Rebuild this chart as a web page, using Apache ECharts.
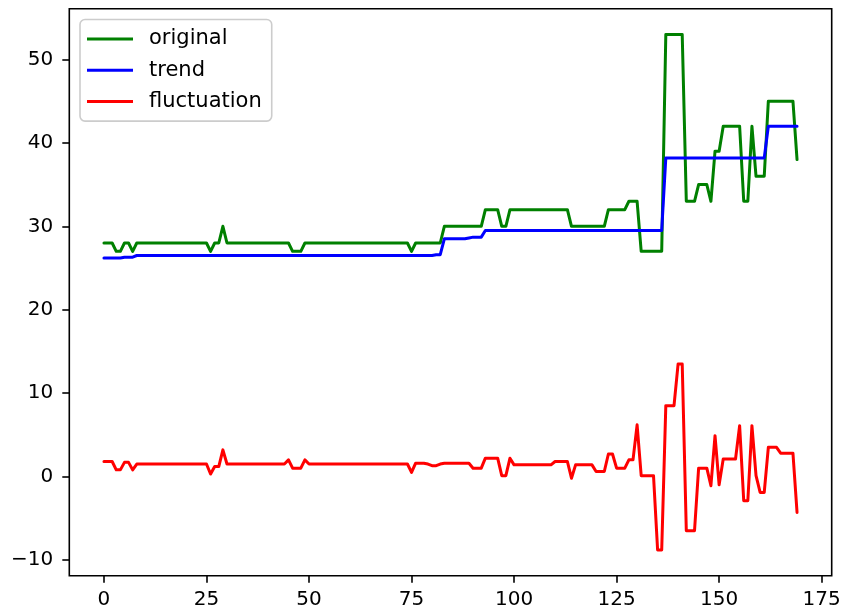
<!DOCTYPE html>
<html>
<head>
<meta charset="utf-8">
<script src="https://cdn.jsdelivr.net/npm/echarts@6/dist/echarts.min.js"></script>
<style>
  html, body { margin: 0; padding: 0; background: #fff; }
  #chart { width: 844px; height: 610px; }
</style>
</head>
<body>
<div id="chart"></div>
<script>
// Decomposition of a series into trend and fluctuation, one value per step (0..169)
const seriesNames = ['original', 'trend', 'fluctuation'];

const original = [
  28, 28, 28, 27, 27, 28, 28, 27, 28, 28,
  28, 28, 28, 28, 28, 28, 28, 28, 28, 28,
  28, 28, 28, 28, 28, 28, 27, 28, 28, 30,
  28, 28, 28, 28, 28, 28, 28, 28, 28, 28,
  28, 28, 28, 28, 28, 28, 27, 27, 27, 28,
  28, 28, 28, 28, 28, 28, 28, 28, 28, 28,
  28, 28, 28, 28, 28, 28, 28, 28, 28, 28,
  28, 28, 28, 28, 28, 27, 28, 28, 28, 28,
  28, 28, 28, 30, 30, 30, 30, 30, 30, 30,
  30, 30, 30, 32, 32, 32, 32, 30, 30, 32,
  32, 32, 32, 32, 32, 32, 32, 32, 32, 32,
  32, 32, 32, 32, 30, 30, 30, 30, 30, 30,
  30, 30, 30, 32, 32, 32, 32, 32, 33, 33,
  33, 27, 27, 27, 27, 27, 27, 53, 53, 53,
  53, 53, 33, 33, 33, 35, 35, 35, 33, 39,
  39, 42, 42, 42, 42, 42, 33, 33, 42, 36,
  36, 36, 45, 45, 45, 45, 45, 45, 45, 38
];

const trend = [
  26.2, 26.2, 26.2, 26.2, 26.2, 26.3, 26.3, 26.3, 26.5, 26.5,
  26.5, 26.5, 26.5, 26.5, 26.5, 26.5, 26.5, 26.5, 26.5, 26.5,
  26.5, 26.5, 26.5, 26.5, 26.5, 26.5, 26.5, 26.5, 26.5, 26.5,
  26.5, 26.5, 26.5, 26.5, 26.5, 26.5, 26.5, 26.5, 26.5, 26.5,
  26.5, 26.5, 26.5, 26.5, 26.5, 26.5, 26.5, 26.5, 26.5, 26.5,
  26.5, 26.5, 26.5, 26.5, 26.5, 26.5, 26.5, 26.5, 26.5, 26.5,
  26.5, 26.5, 26.5, 26.5, 26.5, 26.5, 26.5, 26.5, 26.5, 26.5,
  26.5, 26.5, 26.5, 26.5, 26.5, 26.5, 26.5, 26.5, 26.5, 26.5,
  26.5, 26.6, 26.6, 28.5, 28.5, 28.5, 28.5, 28.5, 28.5, 28.6,
  28.7, 28.7, 28.7, 29.5, 29.5, 29.5, 29.5, 29.5, 29.5, 29.5,
  29.5, 29.5, 29.5, 29.5, 29.5, 29.5, 29.5, 29.5, 29.5, 29.5,
  29.5, 29.5, 29.5, 29.5, 29.5, 29.5, 29.5, 29.5, 29.5, 29.5,
  29.5, 29.5, 29.5, 29.5, 29.5, 29.5, 29.5, 29.5, 29.5, 29.5,
  29.5, 29.5, 29.5, 29.5, 29.5, 29.5, 29.5, 38.2, 38.2, 38.2,
  38.2, 38.2, 38.2, 38.2, 38.2, 38.2, 38.2, 38.2, 38.2, 38.2,
  38.2, 38.2, 38.2, 38.2, 38.2, 38.2, 38.2, 38.2, 38.2, 38.2,
  38.2, 38.2, 42.0, 42.0, 42.0, 42.0, 42.0, 42.0, 42.0, 42.0
];

const fluctuation = [
  1.8, 1.8, 1.8, 0.8, 0.8, 1.7, 1.7, 0.8, 1.5, 1.5,
  1.5, 1.5, 1.5, 1.5, 1.5, 1.5, 1.5, 1.5, 1.5, 1.5,
  1.5, 1.5, 1.5, 1.5, 1.5, 1.5, 0.3, 1.2, 1.2, 3.2,
  1.5, 1.5, 1.5, 1.5, 1.5, 1.5, 1.5, 1.5, 1.5, 1.5,
  1.5, 1.5, 1.5, 1.5, 1.5, 2.0, 1.0, 1.0, 1.0, 2.0,
  1.5, 1.5, 1.5, 1.5, 1.5, 1.5, 1.5, 1.5, 1.5, 1.5,
  1.5, 1.5, 1.5, 1.5, 1.5, 1.5, 1.5, 1.5, 1.5, 1.5,
  1.5, 1.5, 1.5, 1.5, 1.5, 0.5, 1.6, 1.6, 1.6, 1.5,
  1.3, 1.3, 1.5, 1.6, 1.6, 1.6, 1.6, 1.6, 1.6, 1.6,
  1.0, 1.0, 1.0, 2.2, 2.2, 2.2, 2.2, 0.1, 0.1, 2.2,
  1.4, 1.4, 1.4, 1.4, 1.4, 1.4, 1.4, 1.4, 1.4, 1.4,
  1.8, 1.8, 1.8, 1.8, -0.2, 1.4, 1.4, 1.4, 1.4, 1.4,
  0.6, 0.6, 0.6, 2.7, 2.7, 1.0, 1.0, 1.0, 2.0, 2.0,
  6.2, 0.1, 0.1, 0.1, 0.1, -8.8, -8.8, 8.5, 8.5, 8.5,
  13.5, 13.5, -6.5, -6.5, -6.5, 1.0, 1.0, 1.0, -1.1, 4.9,
  -1.0, 2.1, 2.1, 2.1, 2.1, 6.1, -2.9, -2.9, 6.1, 0.1,
  -1.9, -1.9, 3.5, 3.5, 3.5, 2.8, 2.8, 2.8, 2.8, -4.3
];

const xTicks = [0, 25, 50, 75, 100, 125, 150, 175];
const yTicks = [-10, 0, 10, 20, 30, 40, 50];

const FONT = 'DejaVu Sans';
const lineColors = ['#008000', '#0000ff', '#ff0000'];
const allValues = [original, trend, fluctuation];

// Axis limits padded by 5% of the data span on each side
const n = original.length;
const xPad = (n - 1) * 0.05;
const flat = original.concat(trend, fluctuation);
const yMin = Math.min.apply(null, flat);
const yMax = Math.max.apply(null, flat);
const yPad = (yMax - yMin) * 0.05;

const toPairs = arr => arr.map((v, i) => [i, v]);

const chart = echarts.init(document.getElementById('chart'), null, { renderer: 'canvas' });

const tickStyle = { show: true, inside: false, length: 7, lineStyle: { color: '#000', width: 1.6 } };

chart.setOption({
  animation: false,
  backgroundColor: '#ffffff',
  grid: {
    left: 69.3, right: 12.3, top: 8.7, bottom: 34.3,
    show: true, borderColor: '#000', borderWidth: 1.6, backgroundColor: 'transparent'
  },
  legend: {
    orient: 'vertical',
    left: 80, top: 19.5,
    padding: [9, 10, 9, 7],
    itemWidth: 46, itemHeight: 3, itemGap: 10.3,
    icon: 'rect',
    backgroundColor: 'rgba(255,255,255,0.8)',
    borderColor: '#cccccc', borderWidth: 1.6, borderRadius: 5,
    textStyle: { fontFamily: FONT, fontSize: 21, color: '#000', lineHeight: 20, padding: [0, 0, 0, 11] },
    data: seriesNames
  },
  xAxis: {
    type: 'value',
    min: -xPad, max: (n - 1) + xPad,
    axisLine: { show: false, onZero: false },
    splitLine: { show: false },
    axisTick: Object.assign({ customValues: xTicks }, tickStyle),
    axisLabel: { customValues: xTicks, margin: 14, fontFamily: FONT, fontSize: 20, color: '#000' }
  },
  yAxis: {
    type: 'value',
    min: yMin - yPad, max: yMax + yPad,
    axisLine: { show: false, onZero: false },
    splitLine: { show: false },
    axisTick: Object.assign({ customValues: yTicks }, tickStyle),
    axisLabel: {
      customValues: yTicks, margin: 16, fontFamily: FONT, fontSize: 20, color: '#000',
      formatter: v => (v < 0 ? '\u2212' + Math.abs(v) : String(v))
    }
  },
  series: seriesNames.map((name, k) => ({
    name: name,
    type: 'line',
    data: toPairs(allValues[k]),
    showSymbol: false,
    symbol: 'none',
    color: lineColors[k],
    lineStyle: { color: lineColors[k], width: 3, join: 'round', cap: 'round' },
    emphasis: { disabled: true },
    z: 2 + k
  }))
});
</script>
</body>
</html>
